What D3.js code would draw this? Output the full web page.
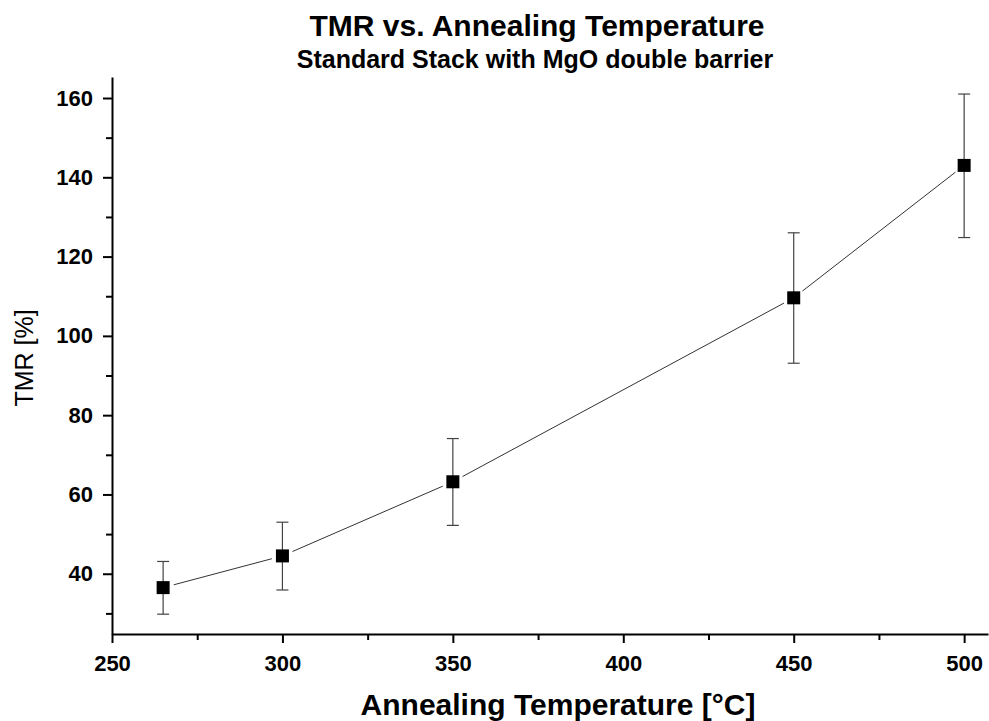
<!DOCTYPE html>
<html><head><meta charset="utf-8">
<script src="https://cdn.jsdelivr.net/npm/d3@7"></script>
<style>body{margin:0;background:#fff}svg{display:block}text{font-family:Arial,"Liberation Sans",sans-serif}</style>
</head><body><svg id="c" width="989" height="721"></svg>
<script>
const temps = [265, 300, 350, 450, 500];
const tmr = [36.5, 44.5, 63.2, 109.6, 143.0];
const errLow = [29.8, 35.9, 52.2, 93.1, 124.8];
const errHigh = [43.1, 53.0, 74.1, 126.0, 161.0];
const xTicks = [250, 300, 350, 400, 450, 500];
const xMinor = [275, 325, 375, 425, 475];
const yTicks = [40, 60, 80, 100, 120, 140, 160];
const yMinor = [30, 50, 70, 90, 110, 130, 150];

const svg = d3.select("#c");
const L = 112, R = 988, T = 77, B = 634;
const x = d3.scaleLinear().domain([250, 507]).range([L, R]);
const y = d3.scaleLinear().domain([24.8, 165.3]).range([B, T]);

// axes
const xAxis = svg.append("g").attr("transform", `translate(0,${B})`)
  .call(d3.axisBottom(x).tickValues(xTicks).tickSize(9).tickPadding(12).tickSizeOuter(0));
svg.append("g").attr("transform", `translate(0,${B})`)
  .call(d3.axisBottom(x).tickValues(xMinor).tickSize(6).tickFormat("").tickSizeOuter(0))
  .select(".domain").remove();
const yAxis = svg.append("g").attr("transform", `translate(${L},0)`)
  .call(d3.axisLeft(y).tickValues(yTicks).tickSize(9).tickPadding(10).tickSizeOuter(0));
svg.append("g").attr("transform", `translate(${L},0)`)
  .call(d3.axisLeft(y).tickValues(yMinor).tickSize(6).tickFormat("").tickSizeOuter(0))
  .select(".domain").remove();
svg.selectAll(".domain").attr("stroke", "#000").attr("stroke-width", 2);
svg.selectAll(".tick line").attr("stroke", "#000").attr("stroke-width", 2);
svg.selectAll(".tick text").attr("font-size", 22).attr("font-weight", "bold")
  .attr("font-family", "Arial, 'Liberation Sans', sans-serif").attr("fill", "#000");

// line segments with gaps near markers
const pts = temps.map((t, i) => [x(t), y(tmr[i])]);
const gap = 11;
for (let i = 0; i < pts.length - 1; i++) {
  const [x1, y1] = pts[i], [x2, y2] = pts[i + 1];
  const d = Math.hypot(x2 - x1, y2 - y1), ux = (x2 - x1) / d, uy = (y2 - y1) / d;
  svg.append("line")
    .attr("x1", x1 + ux * gap).attr("y1", y1 + uy * gap)
    .attr("x2", x2 - ux * gap).attr("y2", y2 - uy * gap)
    .attr("stroke", "#333").attr("stroke-width", 1);
}

// error bars
const eb = svg.append("g").attr("stroke", "#444").attr("stroke-width", 1.2);
temps.forEach((t, i) => {
  const cx = x(t);
  eb.append("line").attr("x1", cx).attr("x2", cx).attr("y1", y(errLow[i])).attr("y2", y(errHigh[i]));
  eb.append("line").attr("x1", cx - 6).attr("x2", cx + 6).attr("y1", y(errLow[i])).attr("y2", y(errLow[i]));
  eb.append("line").attr("x1", cx - 6).attr("x2", cx + 6).attr("y1", y(errHigh[i])).attr("y2", y(errHigh[i]));
});

// markers
const s = 13;
svg.append("g").selectAll("rect").data(temps).join("rect")
  .attr("x", (d) => x(d) - s / 2).attr("y", (d, i) => y(tmr[i]) - s / 2)
  .attr("width", s).attr("height", s).attr("fill", "#000");

// titles
svg.append("text").attr("x", 537).attr("y", 36).attr("text-anchor", "middle")
  .attr("font-size", 30).attr("font-weight", "bold").text("TMR vs. Annealing Temperature");
svg.append("text").attr("x", 535).attr("y", 68).attr("text-anchor", "middle")
  .attr("font-size", 25).attr("font-weight", "bold").text("Standard Stack with MgO double barrier");
svg.append("text").attr("x", 558).attr("y", 715).attr("text-anchor", "middle")
  .attr("font-size", 30).attr("font-weight", "bold").text("Annealing Temperature [°C]");
svg.append("text").attr("transform", "translate(33,358) rotate(-90)").attr("text-anchor", "middle")
  .attr("font-size", 25).text("TMR [%]");
</script></body></html>
